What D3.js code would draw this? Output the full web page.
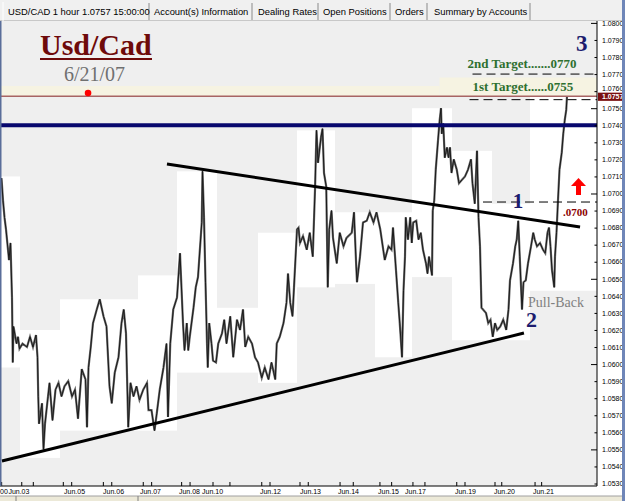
<!DOCTYPE html>
<html><head><meta charset="utf-8">
<script src="https://cdn.jsdelivr.net/npm/d3@7"></script>
<style>html,body{margin:0;padding:0;background:#fff;overflow:hidden}</style>
</head><body>
<svg id="c" width="625" height="501"></svg>
<script>
// ---------- DATA ----------
// hourly bars index (0..398) and price
const priceSeries = [
[1,1.0709],[2,1.0696],[3,1.0686],[4,1.0679],[6,1.0661],[7,1.0671],[8,1.0639],[8.5,1.0601],[9,1.0622],[11,1.0612],
[12,1.0616],[13,1.0609],[15,1.0612],[18,1.0610],[20,1.0616],[22,1.0610],[24,1.0617],[25,1.0604],[25.5,1.0581],[26,1.0565],
[28,1.0577],[29,1.0550],[30,1.0565],[32,1.0581],[33,1.0589],[35,1.0567],[37,1.0585],[39,1.0589],[41,1.0581],[43,1.0587],
[45.5,1.0590],[48,1.0581],[50,1.0585],[52,1.0568],[54.5,1.0597],[57,1.0591],[58,1.0563],[59,1.0598],[60.5,1.0610],[62,1.0624],
[64.5,1.0632],[66.5,1.0638],[69,1.0628],[71,1.0622],[73,1.0587],[74.5,1.0577],[76.5,1.0595],[79,1.0604],[81,1.0624],[82.5,1.0632],
[84,1.0618],[85.5,1.0563],[87,1.0589],[89,1.0581],[91,1.0587],[93,1.0579],[95.5,1.0585],[98,1.0589],[99,1.0573],[101,1.0573],
[103,1.0561],[104.5,1.0571],[106.5,1.0585],[109,1.0598],[111,1.0612],[112,1.0569],[113.5,1.0612],[115.5,1.0632],[118,1.0639],[120,1.0665],
[122,1.0624],[123,1.0608],[124.5,1.0624],[125.5,1.0608],[126.5,1.0616],[129,1.0633],[130.5,1.0645],[132,1.0651],[134.5,1.0683],[135,1.0713],
[136,1.0686],[137,1.0648],[138,1.0612],[138.5,1.0598],[139.5,1.0624],[141,1.0612],[142,1.0602],[144,1.0601],[145.5,1.0612],[148,1.0618],
[149.5,1.0626],[151,1.0612],[153.5,1.0628],[155.5,1.0604],[158,1.0626],[160,1.0620],[162,1.0632],[163.5,1.0610],[165.5,1.0616],[168,1.0612],
[170,1.0604],[172,1.0601],[174.5,1.0592],[176.5,1.0598],[179,1.0591],[181,1.0601],[183.5,1.0591],[184.5,1.0612],[186.5,1.0616],[189,1.0624],
[191,1.0636],[192,1.0653],[193.5,1.0636],[195,1.0628],[196,1.0645],[198,1.0679],[199,1.0680],[200,1.0671],[202,1.0675],[204.5,1.0667],
[206.5,1.0677],[208.5,1.0663],[210,1.0702],[211,1.0737],[212,1.0718],[214,1.0733],[215,1.0738],[216,1.0712],[217.5,1.0704],[218.5,1.0645],
[219.5,1.0679],[221,1.0690],[222,1.0674],[224.5,1.0659],[226.5,1.0677],[229,1.0669],[231,1.0674],[234.5,1.0677],[236,1.0689],[237.5,1.0657],
[238,1.0648],[240,1.0663],[242,1.0683],[244.5,1.0684],[246.5,1.0689],[249,1.0683],[251,1.0689],[253.5,1.0679],[255.5,1.0667],[256.5,1.0661],
[259,1.0669],[261,1.0667],[262,1.0680],[264,1.0655],[265.5,1.0636],[266.5,1.0624],[268,1.0604],[269,1.0643],[270,1.0663],[270.5,1.0686],
[272,1.0673],[273.5,1.0686],[274.5,1.0671],[275.5,1.0683],[277.5,1.0684],[279,1.0673],[280.5,1.0677],[282,1.0667],[284,1.0659],[285,1.0653],
[286,1.0663],[288,1.0652],[288.5,1.0690],[289.5,1.0696],[290.5,1.0714],[292,1.0731],[293,1.0742],[294,1.0750],[294.5,1.0735],[295.5,1.0741],
[296.5,1.0721],[298,1.0727],[299,1.0721],[300,1.0727],[301,1.0712],[302.5,1.0720],[304.5,1.0714],[306,1.0706],[308,1.0708],[310,1.0710],
[312,1.0714],[314,1.0720],[315,1.0706],[316.5,1.0694],[318,1.0725],[319,1.0686],[320,1.0669],[321,1.0633],[322,1.0632],[324,1.0630],
[325.5,1.0624],[327,1.0626],[328.5,1.0616],[330,1.0624],[331.5,1.0620],[333.5,1.0622],[335.5,1.0626],[337.5,1.0620],[339,1.0632],[340,1.0649],
[342,1.0659],[343.5,1.0669],[344.5,1.0673],[345.5,1.0684],[346.5,1.0663],[348,1.0632],[349,1.0648],[350.5,1.0649],[352,1.0659],[354,1.0669],
[355.5,1.0677],[356.5,1.0673],[358,1.0669],[360,1.0671],[362,1.0667],[363.5,1.0665],[365,1.0677],[366,1.0680],[367,1.0669],[368,1.0655],
[369.5,1.0645],[370,1.0663],[371,1.0677],[372,1.0696],[373,1.0714],[374.5,1.0724],[375.5,1.0735],[376.5,1.0743],[377.5,1.0749],[378,1.0757]
];
// daily range boxes
const dayStart = [0, 13.3, 40, 66.7, 92, 118, 144.7, 172, 198, 223.3, 250, 274.7, 301.3, 328, 353.3];
const dayEnd   = [13.3, 40, 66.7, 92, 118, 144.7, 172, 198, 223.3, 250, 274.7, 301.3, 328, 353.3, 398];
const dayHigh  = [1.0710, 1.0620, 1.0638, 1.0638, 1.0652, 1.0713, 1.0633, 1.0677, 1.0737, 1.0689, 1.0689, 1.0750, 1.0725, 1.0694, 1.0757];
const dayLow   = [1.0598, 1.0545, 1.0561, 1.0561, 1.0561, 1.0595, 1.0595, 1.0589, 1.0645, 1.0647, 1.0604, 1.0651, 1.0614, 1.0614, 1.0643];
// trend lines [bar, price]
const upperTrend = [[111.3, 1.07173], [386.7, 1.06804]];
const lowerTrend = [[1.3, 1.05432], [349.3, 1.06182]];
// levels
const resistance = 1.0740;
const bidPrice = 1.0757;
const target2 = 1.0770, target1 = 1.0755, breakLevel = 1.0695;
const target2Start = 315, target1Start = 313, breakStart = 322;
// axis labels
const yTicks = [1.0530,1.0540,1.0550,1.0560,1.0570,1.0580,1.0590,1.0600,1.0610,1.0620,1.0630,1.0640,1.0650,1.0660,
  1.0670,1.0680,1.0690,1.0700,1.0710,1.0720,1.0730,1.0740,1.0750,1.0760,1.0770,1.0780,1.0790,1.0800];
const xLabels = ["00","Jun.03","Jun.05","Jun.06","Jun.07","Jun.08","Jun.10","Jun.12","Jun.13","Jun.14","Jun.15","Jun.17","Jun.19","Jun.20","Jun.21"];
const xLabelPos = [0, 5.6, 42.7, 68.7, 93.3, 119.3, 134.7, 173.3, 200, 225.3, 252, 270, 303.3, 329.3, 355.3];
const xTickPos = [1.1,14.5,22.2,42.2,47.8,68.9,74.5,95.5,101.1,121.1,126.7,142,153.3,174.5,180,200,205.5,226.7,235.5,253.3,261.1,275.3,283.3,304.5,310,330,334.5,356.7,361.1];
const tabs = ["USD/CAD 1 hour 1.0757 15:00:00","Account(s) Information","Dealing Rates","Open Positions","Orders","Summary by Accounts"];
const tabTextX = [8, 154, 258, 323, 395, 434];
const tabDividers = [149, 252, 318, 390, 427, 530];

// ---------- CHART ----------
const svg = d3.select("#c");
const W = 625, H = 501;
const plotL = 0, plotR = 597, plotT = 21, plotB = 486;
const x = d3.scaleLinear().domain([0, 398]).range([0, 597]);
const y = d3.scaleLinear().domain([1.0530, 1.0800]).range([483.5, 22.9]);

svg.append("rect").attr("width", W).attr("height", H).attr("fill", "#ffffff");
svg.append("defs").append("clipPath").attr("id","plot")
  .append("rect").attr("x",plotL).attr("y",plotT).attr("width",plotR-plotL).attr("height",plotB-plotT);
const g = svg.append("g").attr("clip-path","url(#plot)");
g.append("rect").attr("x",plotL).attr("y",plotT).attr("width",plotR-plotL).attr("height",plotB-plotT).attr("fill","#efefef");

// day boxes
g.selectAll("rect.day").data(dayStart).enter().append("rect").attr("class","day")
  .attr("x", (d,i)=>x(d)).attr("width",(d,i)=>x(dayEnd[i])-x(d))
  .attr("y",(d,i)=>y(dayHigh[i])).attr("height",(d,i)=>y(dayLow[i])-y(dayHigh[i]))
  .attr("fill","#ffffff");

// cream band near current price
g.append("rect").attr("x",x(0)).attr("width",x(293)-x(0)).attr("y",y(1.0763)).attr("height",y(bidPrice)-y(1.0763)).attr("fill","#f6f3e2");
g.append("rect").attr("x",x(293)).attr("width",x(398)-x(293)).attr("y",y(1.0768)).attr("height",y(bidPrice)-y(1.0768)).attr("fill","#f6f3e2");

// price line (gray body + dark core, to mimic dense hourly bars)
const line = d3.line().x(d=>x(d[0])).y(d=>y(d[1]));
g.append("path").datum(priceSeries).attr("d",line).attr("fill","none")
  .attr("stroke","#6a6a6a").attr("stroke-width",2.2).attr("stroke-linejoin","miter");
g.append("path").datum(priceSeries).attr("d",line).attr("fill","none")
  .attr("stroke","#1a1a1a").attr("stroke-width",1).attr("stroke-linejoin","miter");

// trend lines
[upperTrend, lowerTrend].forEach(t=>{
  g.append("path").datum(t).attr("d",line).attr("stroke","#000").attr("stroke-width",3).attr("fill","none");
});

// resistance
g.append("line").attr("x1",x(0)).attr("x2",x(398)).attr("y1",y(resistance)).attr("y2",y(resistance))
  .attr("stroke","#08086e").attr("stroke-width",4);
// bid line
g.append("line").attr("x1",x(0)).attr("x2",x(398)).attr("y1",y(bidPrice)).attr("y2",y(bidPrice))
  .attr("stroke","#a86464").attr("stroke-width",1.3);
// dashed target lines
[[target2,target2Start],[target1,target1Start],[breakLevel,breakStart]].forEach(([p,s])=>{
  g.append("line").attr("x1",x(s)).attr("x2",x(398)).attr("y1",y(p)).attr("y2",y(p))
   .attr("stroke","#000").attr("stroke-width",1).attr("stroke-dasharray","9,5");
});

// red dot
g.append("circle").attr("cx",x(58.7)).attr("cy",y(1.07589)).attr("r",3.3).attr("fill","#ff0000");

// annotations
const serif = "'Liberation Serif','Times New Roman',serif";
svg.append("text").attr("x",40).attr("y",55).text("Usd/Cad")
  .attr("font-family",serif).attr("font-weight","bold").attr("font-size",30).attr("fill","#6e0a0a");
svg.append("line").attr("x1",40).attr("x2",152).attr("y1",59).attr("y2",59).attr("stroke","#6e0a0a").attr("stroke-width",2);
svg.append("text").attr("x",64).attr("y",81).text("6/21/07")
  .attr("font-family",serif).attr("font-size",20).attr("fill","#707070");
svg.append("text").attr("x",576).attr("y",51).text("3")
  .attr("font-family",serif).attr("font-weight","bold").attr("font-size",23).attr("fill","#1c1c6e");
svg.append("text").attr("x",x(target2Start)-5).attr("y",y(target2)-6).text("2nd Target.......0770")
  .attr("font-family",serif).attr("font-weight","bold").attr("font-size",13).attr("fill","#2e7030");
svg.append("text").attr("x",x(target1Start)+3).attr("y",y(target1)-9).text("1st Target......0755")
  .attr("font-family",serif).attr("font-weight","bold").attr("font-size",13).attr("fill","#2e7030");
svg.append("text").attr("x",518).attr("y",y(breakLevel)+6).attr("text-anchor","middle").text("1")
  .attr("font-family",serif).attr("font-weight","bold").attr("font-size",21).attr("fill","#1c1c6e");
svg.append("text").attr("x",563).attr("y",y(breakLevel)+14).text(".0700")
  .attr("font-family",serif).attr("font-weight","bold").attr("font-size",11).attr("fill","#8b0000");
svg.append("text").attr("x",531.5).attr("y",327).attr("text-anchor","middle").text("2")
  .attr("font-family",serif).attr("font-weight","bold").attr("font-size",22).attr("fill","#1c1c6e");
svg.append("text").attr("x",528).attr("y",307).text("Pull-Back")
  .attr("font-family",serif).attr("font-size",14).attr("fill","#808080");
// red arrow
const ax = 578.5, aTop = 178;
svg.append("path").attr("fill","#ff0000")
  .attr("d",`M${ax},${aTop} L${ax+7.5},${aTop+8} L${ax+2.5},${aTop+8} L${ax+2.5},${aTop+17} L${ax-2.5},${aTop+17} L${ax-2.5},${aTop+8} L${ax-7.5},${aTop+8} Z`);

// y axis (right)
const sans = "'Liberation Sans',Arial,sans-serif";
const yAxis = d3.axisRight(y).tickValues(yTicks).tickFormat(d3.format(".4f")).tickSize(-2.5).tickPadding(5);
const ya = svg.append("g").attr("transform",`translate(${plotR},0)`).call(yAxis);
ya.select(".domain").attr("d",`M0,${plotT}V${plotB}`).attr("stroke","#000");
ya.selectAll(".tick line").attr("x2",(d)=> (Math.round(d*10000)%50===0)? -6 : -2.5);
ya.selectAll(".tick text").attr("font-family",sans).attr("font-size",7).attr("fill","#000");
// label just above the bid box sits partly behind it, nudge so it stays readable
ya.selectAll(".tick text").filter(d=>Math.abs(d-1.0760)<1e-6).attr("dy","-0.1em");

// bid label box
svg.append("rect").attr("x",plotR+1).attr("y",y(bidPrice)-3.6).attr("width",25).attr("height",8.2).attr("fill","#7a1010");
svg.append("text").attr("x",plotR+5).attr("y",y(bidPrice)+3).text(d3.format(".4f")(bidPrice))
  .attr("font-family",sans).attr("font-size",7).attr("font-weight","bold").attr("fill","#ffffff");

// x axis
svg.append("line").attr("x1",0).attr("x2",plotR).attr("y1",plotB).attr("y2",plotB).attr("stroke","#000");
svg.selectAll("line.xt").data(xTickPos).enter().append("line").attr("class","xt")
  .attr("x1",d=>x(d)).attr("x2",d=>x(d)).attr("y1",plotB-4).attr("y2",plotB).attr("stroke","#000");
svg.selectAll("text.xl").data(xLabels).enter().append("text").attr("class","xl")
  .attr("x",(d,i)=>x(xLabelPos[i])).attr("y",494).text(d=>d)
  .attr("font-family",sans).attr("font-size",7).attr("fill","#000");

// bottom strip
svg.append("rect").attr("x",0).attr("y",496).attr("width",W).attr("height",5).attr("fill","#ece9d8");
svg.append("line").attr("x1",0).attr("x2",W).attr("y1",496).attr("y2",496).attr("stroke","#a0a0a0");
[16,138].forEach(v=>svg.append("line").attr("x1",v).attr("x2",v).attr("y1",496).attr("y2",501).attr("stroke","#808080"));

// tab bar
svg.append("rect").attr("x",0).attr("y",0).attr("width",W).attr("height",plotT).attr("fill","#f0f0f0");
svg.append("line").attr("x1",0).attr("x2",W).attr("y1",plotT-0.5).attr("y2",plotT-0.5).attr("stroke","#c8c8c8");
svg.append("line").attr("x1",3).attr("x2",3).attr("y1",2).attr("y2",plotT).attr("stroke","#ffffff");
svg.selectAll("line.tabd").data(tabDividers).enter().append("line").attr("class","tabd")
  .attr("x1",d=>d).attr("x2",d=>d).attr("y1",3).attr("y2",plotT-1).attr("stroke","#8a8a8a");
svg.selectAll("text.tab").data(tabs).enter().append("text").attr("class","tab")
  .attr("x",(d,i)=>tabTextX[i]).attr("y",15).text(d=>d)
  .attr("font-family",sans).attr("font-size",9.4).attr("fill","#000");

// window borders
svg.append("rect").attr("x",0).attr("y",plotT).attr("width",1.5).attr("height",plotB-plotT).attr("fill","#5a6e9a");
svg.append("rect").attr("x",622).attr("y",0).attr("width",3).attr("height",H).attr("fill","#6f86b8");
</script>
</body></html>
